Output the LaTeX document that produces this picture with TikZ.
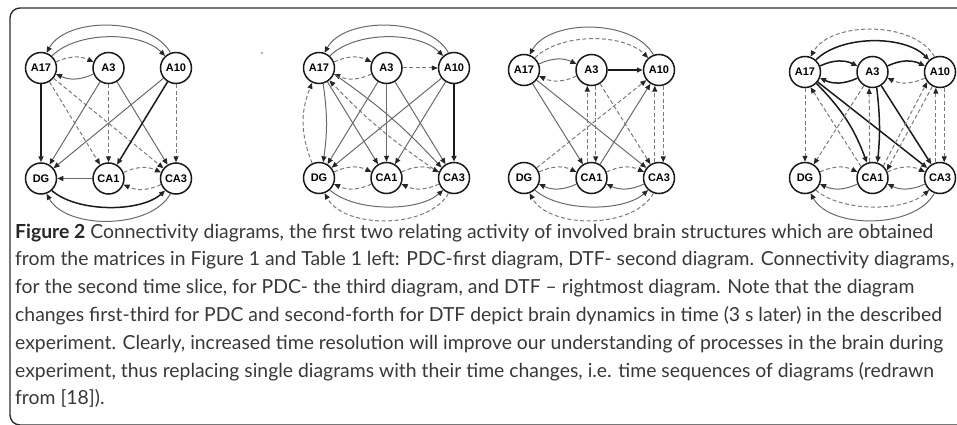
\documentclass[tikz,border=0pt]{standalone}
\usepackage{fontspec}
\setmainfont{Lato}
\newfontfamily\labelfont{Liberation Sans}
\usetikzlibrary{arrows.meta}

\definecolor{edgegray}{HTML}{6A6A6A}
\definecolor{dashgray}{HTML}{7A7A7A}
\definecolor{darkedge}{HTML}{1A1A1A}
\definecolor{captext}{HTML}{383838}
\definecolor{framecol}{HTML}{2E2E2E}

\tikzset{
  region/.style={circle, draw=black!90, line width=1.5pt, minimum size=31pt,
    inner sep=0pt, fill=white, font=\labelfont\bfseries\fontsize{11}{12}\selectfont},
  arrowend/.style={-{Triangle[length=6pt,width=5pt,color=black!85]}},
  lk/.style={arrowend, draw=edgegray, line width=1pt},
  dk/.style={arrowend, draw=dashgray, line width=1pt, dash pattern=on 4pt off 2.5pt},
  bk/.style={arrowend, draw=darkedge, line width=1.5pt},
  capline/.style={anchor=base west, inner sep=0pt, text=captext,
    font=\fontsize{\capsize}{\capsize}\selectfont},
}

% six regions of one connectivity diagram: prefix, left x, top y, bottom y
\newcommand\brainnodes[4]{%
  \node[region] (#1a17) at (#2,#3) {A17};
  \node[region] (#1a3)  at ({#2+67.5},#3) {A3};
  \node[region] (#1a10) at ({#2+135},#3) {A10};
  \node[region] (#1dg)  at (#2,#4) {DG};
  \node[region] (#1ca1) at ({#2+67.5},#4) {CA1};
  \node[region] (#1ca3) at ({#2+135},#4) {CA3};
}
% long arcs over the top row: prefix, outer (A10->A17), inner (A17->A10)
\newcommand\toparcs[3]{%
  \draw[#2] (#1a10.110) .. controls +(-20,36) and +(20,36) .. (#1a17.70);
  \draw[#3] (#1a17.48) .. controls +(25,25) and +(-25,25) .. (#1a10.132);
}
% long arcs under the bottom row: prefix, inner (DG->CA3), outer (CA3->DG)
\newcommand\bottomarcs[3]{%
  \draw[#2] (#1dg.-48) .. controls +(25,-22) and +(-25,-22) .. (#1ca3.-132);
  \draw[#3] (#1ca3.-110) .. controls +(-20,-36) and +(20,-36) .. (#1dg.-70);
}
% two-way link between horizontal neighbours: left, right, upper style, lower style
\newcommand\hpair[4]{%
  \draw[#3] (#1.22) to[bend left=25] (#2.158);
  \draw[#4] (#2.-158) to[bend left=25] (#1.-22);
}

\newsavebox\firstlinebox
\newlength\firstlinewd

\begin{document}
\sbox\firstlinebox{\fontsize{10}{12}\selectfont\textbf{Figure 2} Connectivity diagrams, the first two relating activity of involved brain structures which are obtained}%
\setlength\firstlinewd{\wd\firstlinebox}%
\pgfmathsetmacro\capsize{9180/\firstlinewd}%
\begin{tikzpicture}[x=1pt,y=1pt]
\useasboundingbox (0,0) rectangle (957,424);

% frame
\draw[framecol, line width=1.4pt, rounded corners=10pt]
  (975,416) -- (10,416) -- (10,-1) -- (975,-1);

% ---------- diagram 1: PDC, first time slice ----------
\brainnodes{d1}{41}{356}{245.5}
\toparcs{d1}{lk}{lk}
\hpair{d1a17}{d1a3}{dk}{lk}
\draw[bk] (d1a17) -- (d1dg);
\draw[dk] (d1a17) -- (d1ca1);
\draw[dk] (d1a17) -- (d1ca3);
\draw[lk] (d1a3) -- (d1dg);
\draw[dk] (d1a3) -- (d1ca1);
\draw[lk] (d1a3) -- (d1ca3);
\draw[lk] (d1a10) -- (d1dg);
\draw[bk] (d1a10) -- (d1ca1);
\draw[dk] (d1a10) -- (d1ca3);
\draw[lk] (d1ca1) -- (d1dg);
\hpair{d1ca1}{d1ca3}{dk}{dk}
\bottomarcs{d1}{bk}{lk}

% ---------- diagram 2: DTF, first time slice ----------
\fill[black!60] (262,371) circle (0.9);
\brainnodes{d2}{319}{356}{246}
\toparcs{d2}{lk}{lk}
\hpair{d2a17}{d2a3}{dk}{dk}
\draw[dk] (d2a3) -- (d2a10);
\draw[dk] (d2dg.115) to[bend left=22] (d2a17.245);
\draw[lk] (d2a17.285) to[bend left=8] (d2dg.75);
\draw[lk] (d2a17) -- (d2ca1);
\draw[lk] (d2a17.-22) to[bend left=6] (d2ca3.140);
\draw[dk] (d2ca3.160) to[bend left=6] (d2a17.-50);
\draw[lk] (d2a3) -- (d2dg);
\draw[lk] (d2a3) -- (d2ca1);
\draw[lk] (d2a3) -- (d2ca3);
\draw[lk] (d2a10) -- (d2dg);
\draw[lk] (d2a10) -- (d2ca1);
\draw[bk] (d2a10) -- (d2ca3);
\hpair{d2dg}{d2ca1}{dk}{dk}
\hpair{d2ca1}{d2ca3}{dk}{dk}
\bottomarcs{d2}{lk}{dk}

% ---------- diagram 3: PDC, second time slice ----------
\brainnodes{d3}{524}{354}{246}
\toparcs{d3}{lk}{dk}
\hpair{d3a17}{d3a3}{lk}{dk}
\draw[bk] (d3a3) -- (d3a10);
\draw[lk] (d3a17) -- (d3ca1);
\draw[lk] (d3a17) -- (d3ca3);
\draw[dk] (d3ca1.105) -- (d3a3.255);
\draw[dk] (d3a3.285) -- (d3ca1.75);
\draw[dk] (d3a3) -- (d3ca3);
\draw[dk] (d3dg) -- (d3a10);
\draw[lk] (d3ca1) -- (d3a10);
\draw[dk] (d3ca3.105) -- (d3a10.255);
\draw[dk] (d3a10.285) -- (d3ca3.75);
\hpair{d3dg}{d3ca1}{dk}{lk}
\hpair{d3ca1}{d3ca3}{dk}{lk}
\bottomarcs{d3}{lk}{dk}

% ---------- diagram 4: DTF, second time slice ----------
\brainnodes{d4}{805}{352}{246}
\toparcs{d4}{dk}{bk}
\hpair{d4a17}{d4a3}{bk}{bk}
\hpair{d4a3}{d4a10}{bk}{dk}
\draw[dk] (d4a17) -- (d4dg);
\draw[dk] (d4ca1.135) -- (d4a17.-70);
\draw[bk] (d4a17.-45) to[bend left=12] (d4ca1.110);
\draw[bk] (d4a17) -- (d4ca3);
\draw[dk] (d4a3) -- (d4dg);
\draw[dk] (d4ca1.100) -- (d4a3.258);
\draw[bk] (d4a3.285) to[bend left=6] (d4ca1.72);
\draw[bk] (d4a3) -- (d4ca3);
\draw[dk] (d4ca1.48) -- (d4a10.218);
\draw[dk] (d4a10.242) -- (d4ca1.28);
\draw[dk] (d4ca3.105) -- (d4a10.255);
\draw[dk] (d4a10.285) -- (d4ca3.75);
\hpair{d4dg}{d4ca1}{dk}{lk}
\hpair{d4ca1}{d4ca3}{dk}{lk}
\bottomarcs{d4}{dk}{lk}

% ---------- caption ----------
\node[capline] (cap1) at (15,186)
  {{\bfseries\color{black!85}Figure 2} Connectivity diagrams, the first two relating activity of involved brain structures which are obtained};
\node[capline] (cap2) at (15,158.2)
  {from the matrices in Figure 1 and Table 1 left: PDC-first diagram, DTF- second diagram. Connectivity diagrams,};
\node[capline] (cap3) at (15,130.4)
  {for the second time slice, for PDC- the third diagram, and DTF – rightmost diagram. Note that the diagram};
\node[capline] (cap4) at (15,102.6)
  {changes first-third for PDC and second-forth for DTF depict brain dynamics in time (3 s later) in the described};
\node[capline] (cap5) at (15,74.8)
  {experiment. Clearly, increased time resolution will improve our understanding of processes in the brain during};
\node[capline] (cap6) at (15,47)
  {experiment, thus replacing single diagrams with their time changes, i.e. time sequences of diagrams (redrawn};
\node[capline] (cap7) at (15,19.2)
  {from [18]).};
\end{tikzpicture}
\end{document}
